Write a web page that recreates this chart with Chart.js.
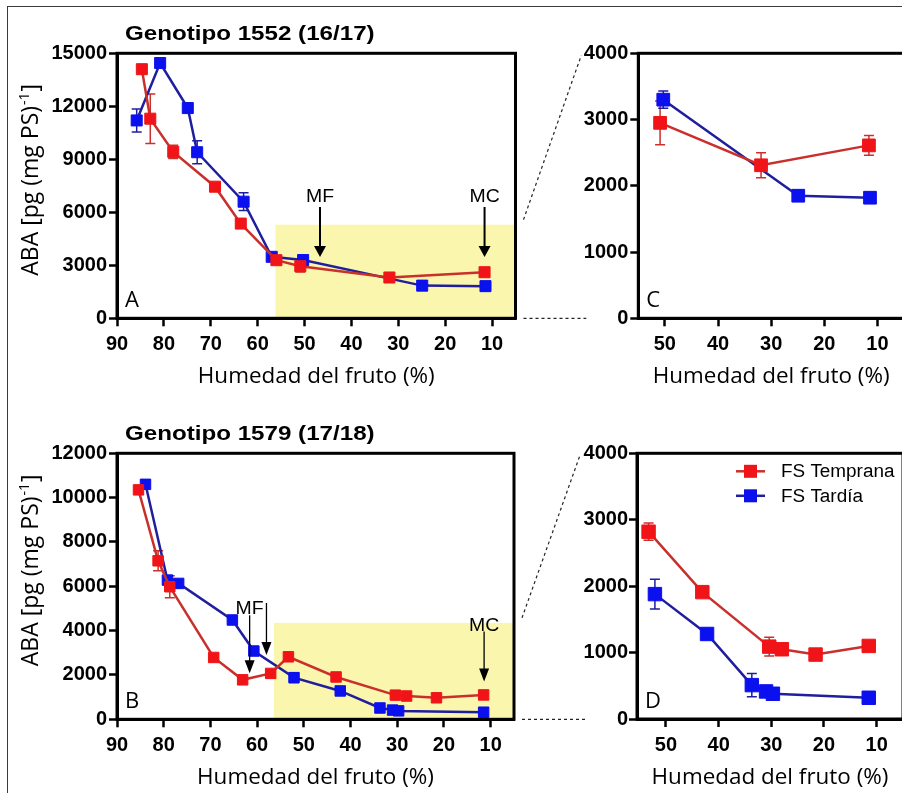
<!DOCTYPE html>
<html lang="es">
<head>
<meta charset="utf-8">
<title>ABA y humedad del fruto</title>
<script src="https://cdn.jsdelivr.net/npm/chart.js@4.4.1/dist/chart.umd.min.js"></script>
<style>
html, body { margin: 0; padding: 0; background: #fff; }
body { width: 902px; height: 793px; overflow: hidden; position: relative; }
#marco { position: absolute; left: 7px; top: 6px; width: 1000px; height: 1000px;
         border-top: 1.5px solid #3a3a3a; border-left: 1.5px solid #3a3a3a; }
canvas { position: absolute; left: 0; top: 0; }
</style>
</head>
<body>
<div id="marco"></div>
<canvas id="panelA" width="920" height="793"></canvas>
<canvas id="panelB" width="920" height="793"></canvas>
<canvas id="panelC" width="920" height="793"></canvas>
<canvas id="panelD" width="920" height="793"></canvas>
<script>
// Genotipo 1552 (16/17): humedad del fruto (%), ABA y error estándar
const humedad1552Temprana = [84.7, 82.9, 78.0, 69.1, 63.6, 56.0, 50.9, 31.9, 11.6];
const aba1552Temprana     = [14100, 11300, 9420, 7450, 5360, 3290, 2950, 2310, 2610];
const es1552Temprana      = [0, 1400, 380, 0, 0, 0, 330, 190, 150];

const humedad1552Tardia = [85.8, 80.8, 74.9, 72.9, 63.0, 57.0, 50.3, 24.9, 11.4];
const aba1552Tardia     = [11200, 14450, 11900, 9400, 6600, 3480, 3300, 1850, 1820];
const es1552Tardia      = [650, 300, 0, 650, 500, 0, 130, 0, 0];

// Genotipo 1579 (17/18)
const humedad1579Temprana = [85.4, 81.2, 78.7, 69.3, 63.1, 57.1, 53.3, 43.1, 30.4, 28.0, 21.6, 11.5];
const aba1579Temprana     = [10350, 7150, 5980, 2790, 1780, 2070, 2820, 1910, 1090, 1050, 970, 1100];
const es1579Temprana      = [0, 450, 500, 0, 0, 0, 130, 0, 140, 0, 0, 0];

const humedad1579Tardia = [83.9, 79.2, 76.8, 65.3, 60.7, 52.1, 42.2, 33.7, 31.0, 29.7, 11.5];
const aba1579Tardia     = [10600, 6280, 6130, 4480, 3080, 1880, 1280, 510, 415, 380, 320];
const es1579Tardia      = [0, 0, 0, 0, 0, 225, 0, 175, 0, 0, 0];

const ticksHumedad     = [90, 80, 70, 60, 50, 40, 30, 20, 10];
const ticksHumedadZoom = [50, 40, 30, 20, 10];
const ticksAba1552     = [0, 3000, 6000, 9000, 12000, 15000];
const ticksAba1579     = [0, 2000, 4000, 6000, 8000, 10000, 12000];
const ticksAbaZoom     = [0, 1000, 2000, 3000, 4000];

const nombresSeries = ['FS Temprana', 'FS Tardía'];

const W = 920, H = 793;
const amarillo = '#fbf6ad';
const rojo = { line: '#c9302c', point: '#f01418' };
const azul = { line: '#1f1f9e', point: '#0b10ee' };
const fuenteTicks = { family: '"Liberation Sans", Arial, sans-serif', size: 20, weight: 'bold' };

function serie(nombre, xs, ys, es, color, xMax) {
  const puntos = xs.map((x, i) => ({ x: x, y: ys[i], e: es[i] })).filter(pt => pt.x <= xMax);
  return { nombre: nombre, color: color, puntos: puntos };
}

// texto con escala horizontal (las fuentes del gráfico original son algo anchas)
function texto(ctx, str, x, y, font, sx, align) {
  ctx.save();
  ctx.font = font;
  ctx.fillStyle = '#000';
  ctx.textBaseline = 'alphabetic';
  ctx.textAlign = 'left';
  const w = ctx.measureText(str).width * sx;
  const x0 = align === 'center' ? x - w / 2 : (align === 'right' ? x - w : x);
  ctx.translate(x0, y);
  ctx.scale(sx, 1);
  ctx.fillText(str, 0, 0);
  ctx.restore();
}

function tituloY(ctx, cx, cy) {
  const main = 'ABA [pg (mg PS)', sup = '-1', fin = ']';
  const fGrande = '23px "Open Sans", sans-serif', fSup = '14px "Open Sans", sans-serif';
  ctx.save();
  ctx.fillStyle = '#000';
  ctx.textBaseline = 'alphabetic';
  ctx.translate(cx, cy);
  ctx.rotate(-Math.PI / 2);
  ctx.font = fGrande;
  const w1 = ctx.measureText(main).width, w3 = ctx.measureText(fin).width;
  ctx.font = fSup;
  const w2 = ctx.measureText(sup).width;
  const x0 = -(w1 + w2 + w3 + 2) / 2;
  ctx.font = fGrande;
  ctx.fillText(main, x0, 0);
  ctx.fillText(fin, x0 + w1 + w2 + 2, 0);
  ctx.font = fSup;
  ctx.fillText(sup, x0 + w1 + 1, -9);
  ctx.restore();
}

function flecha(ctx, x, yTip, largo, ancho, cabeza, grosor) {
  ctx.save();
  ctx.strokeStyle = '#000';
  ctx.fillStyle = '#000';
  ctx.lineWidth = grosor;
  ctx.beginPath();
  ctx.moveTo(x, yTip - largo);
  ctx.lineTo(x, yTip - cabeza + 1);
  ctx.stroke();
  ctx.beginPath();
  ctx.moveTo(x - ancho, yTip - cabeza);
  ctx.lineTo(x + ancho, yTip - cabeza);
  ctx.lineTo(x, yTip);
  ctx.closePath();
  ctx.fill();
  ctx.restore();
}

function discontinua(ctx, x1, y1, x2, y2) {
  ctx.save();
  ctx.strokeStyle = '#222';
  ctx.lineWidth = 1.2;
  ctx.setLineDash([3, 3]);
  ctx.beginPath();
  ctx.moveTo(x1, y1);
  ctx.lineTo(x2, y2);
  ctx.stroke();
  ctx.restore();
}

function decoracion(p) {
  return {
    id: 'deco' + p.letra,
    beforeDatasetsDraw(chart) {
      const ctx = chart.ctx, a = chart.chartArea, sx = chart.scales.x, sy = chart.scales.y;
      if (p.zona) {
        const x0 = sx.getPixelForValue(p.zona.desde);
        const y0 = sy.getPixelForValue(p.zona.hasta);
        ctx.save();
        ctx.fillStyle = amarillo;
        ctx.fillRect(x0, y0, a.right - x0, a.bottom - y0);
        ctx.restore();
      }
      // barras de error
      chart.data.datasets.forEach(ds => {
        ctx.save();
        ctx.strokeStyle = ds.borderColor;
        ctx.lineWidth = 1.5;
        ds.data.forEach(pt => {
          if (!pt.e) return;
          const px = sx.getPixelForValue(pt.x);
          const y1 = sy.getPixelForValue(pt.y + pt.e), y2 = sy.getPixelForValue(pt.y - pt.e);
          ctx.beginPath();
          ctx.moveTo(px, y1); ctx.lineTo(px, y2);
          ctx.moveTo(px - 5, y1); ctx.lineTo(px + 5, y1);
          ctx.moveTo(px - 5, y2); ctx.lineTo(px + 5, y2);
          ctx.stroke();
        });
        ctx.restore();
      });
    },
    afterDraw(chart) {
      const ctx = chart.ctx, a = chart.chartArea, sx = chart.scales.x, sy = chart.scales.y;
      ctx.save();
      ctx.strokeStyle = '#000';
      ctx.lineWidth = 3;
      ctx.strokeRect(a.left, a.top, a.right - a.left, a.bottom - a.top);
      ctx.restore();

      texto(ctx, p.letra, a.left + 8, a.bottom - 11, '22px "Open Sans", sans-serif', 1, 'left');
      texto(ctx, 'Humedad del fruto (%)', (a.left + a.right) / 2, a.bottom + 64.5,
            '22px "Open Sans", sans-serif', 1.02, 'center');

      if (p.titulo) {
        texto(ctx, p.titulo, a.left + 8, a.top - 13, 'bold 21px "Liberation Sans", Arial, sans-serif', 1.15, 'left');
      }
      if (p.ejeY) {
        tituloY(ctx, 38, (a.top + a.bottom) / 2 + p.ejeY);
      }
      (p.flechas || []).forEach(f => {
        const x = sx.getPixelForValue(f.x), yTip = sy.getPixelForValue(f.punta);
        flecha(ctx, x, yTip, f.largo, p.estiloFlecha.ancho, p.estiloFlecha.cabeza, p.estiloFlecha.grosor);
        if (f.texto) {
          texto(ctx, f.texto, x, yTip - f.largo - p.estiloFlecha.gap, '18px "Liberation Sans", Arial, sans-serif', 1.08, 'center');
        }
      });
      if (p.leyenda) {
        chart.data.datasets.forEach((ds, i) => {
          const yc = a.top + 18 + i * 24.5;
          const xl = a.left + 99;
          ctx.save();
          ctx.strokeStyle = ds.borderColor;
          ctx.lineWidth = 2.5;
          ctx.beginPath();
          ctx.moveTo(xl, yc); ctx.lineTo(xl + 29, yc);
          ctx.stroke();
          ctx.fillStyle = ds.pointBackgroundColor;
          ctx.fillRect(xl + 8, yc - 6.5, 13, 13);
          ctx.restore();
          texto(ctx, ds.label, xl + 45, yc + 6, '18px "Liberation Sans", Arial, sans-serif', 1.05, 'left');
        });
      }
      if (p.fuente) {
        // líneas de ampliación desde la zona amarilla del panel de origen
        const f = p.fuente.chart, fa = f.chartArea;
        const yTop = f.scales.y.getPixelForValue(p.fuente.hasta);
        discontinua(ctx, fa.right + 8, yTop - 5, a.left - 57, a.top + 2);
        discontinua(ctx, fa.right + 8, fa.bottom, a.left - 52, fa.bottom);
      }
    }
  };
}

function crearPanel(id, p) {
  return new Chart(document.getElementById(id), {
    type: 'line',
    data: {
      datasets: p.series.map(s => ({
        label: s.nombre,
        data: s.puntos,
        borderColor: s.color.line,
        backgroundColor: s.color.point,
        pointBackgroundColor: s.color.point,
        pointBorderColor: s.color.point,
        pointStyle: 'rect',
        pointRadius: p.radio,
        pointBorderWidth: 1,
        borderWidth: 2.5,
        tension: 0,
        fill: false
      }))
    },
    options: {
      responsive: false,
      animation: false,
      devicePixelRatio: 1,
      events: [],
      layout: { padding: { left: 0, top: p.area.top, right: W - p.area.right, bottom: 0 } },
      plugins: { legend: { display: false }, tooltip: { enabled: false } },
      scales: {
        x: {
          type: 'linear',
          reverse: true,
          min: p.xMin,
          max: p.xMax,
          afterBuildTicks: s => { s.ticks = p.xTicks.map(v => ({ value: v })); },
          afterFit: s => { s.height = H - p.area.bottom; },
          ticks: { font: fuenteTicks, color: '#000', padding: 6, maxRotation: 0, autoSkip: false,
                   callback: v => String(v) },
          grid: { drawOnChartArea: false, drawTicks: true, tickLength: 8, tickWidth: 2.5,
                  tickColor: '#000', color: '#000' },
          border: { display: true, color: '#000', width: 3 }
        },
        y: {
          type: 'linear',
          min: 0,
          max: p.yMax,
          afterBuildTicks: s => { s.ticks = p.yTicks.map(v => ({ value: v })); },
          afterFit: s => { s.width = p.area.left; },
          ticks: { font: fuenteTicks, color: '#000', padding: p.yPad, autoSkip: false,
                   callback: v => String(v) },
          grid: { drawOnChartArea: false, drawTicks: true, tickLength: p.yTick, tickWidth: 2.5,
                  tickColor: '#000', color: '#000' },
          border: { display: true, color: '#000', width: 3 }
        }
      }
    },
    plugins: [decoracion(p)]
  });
}

const chartA = crearPanel('panelA', {
  letra: 'A',
  titulo: 'Genotipo 1552 (16/17)',
  area: { left: 117, top: 53.3, right: 515.5, bottom: 318.3 },
  xMin: 5, xMax: 90, xTicks: ticksHumedad,
  yMax: 15000, yTicks: ticksAba1552, yPad: 2, yTick: 8,
  radio: 7.8,
  ejeY: -6,
  zona: { desde: 56.2, hasta: 5300 },
  estiloFlecha: { ancho: 6, cabeza: 11, grosor: 2, gap: 5 },
  flechas: [
    { x: 46.7, punta: 3470, largo: 50, texto: 'MF' },
    { x: 11.6, punta: 3470, largo: 50, texto: 'MC' }
  ],
  series: [
    serie(nombresSeries[0], humedad1552Temprana, aba1552Temprana, es1552Temprana, rojo, 90),
    serie(nombresSeries[1], humedad1552Tardia, aba1552Tardia, es1552Tardia, azul, 90)
  ]
});

const chartB = crearPanel('panelB', {
  letra: 'B',
  titulo: 'Genotipo 1579 (17/18)',
  area: { left: 117, top: 453.3, right: 514, bottom: 719.3 },
  xMin: 5, xMax: 90, xTicks: ticksHumedad,
  yMax: 12000, yTicks: ticksAba1579, yPad: 2, yTick: 8,
  radio: 7.4,
  ejeY: -16,
  zona: { desde: 56.4, hasta: 4350 },
  estiloFlecha: { ancho: 5, cabeza: 13, grosor: 1.3, gap: 1 },
  flechas: [
    { x: 61.6, punta: 2075, largo: 58, texto: 'MF' },
    { x: 58.0, punta: 2900, largo: 52 },
    { x: 11.4, punta: 1700, largo: 50, texto: 'MC' }
  ],
  series: [
    serie(nombresSeries[0], humedad1579Temprana, aba1579Temprana, es1579Temprana, rojo, 90),
    serie(nombresSeries[1], humedad1579Tardia, aba1579Tardia, es1579Tardia, azul, 90)
  ]
});

crearPanel('panelC', {
  letra: 'C',
  area: { left: 638.3, top: 53.3, right: 904, bottom: 318.3 },
  xMin: 5, xMax: 55, xTicks: ticksHumedadZoom,
  yMax: 4000, yTicks: ticksAbaZoom, yPad: 2, yTick: 8,
  radio: 9,
  fuente: { chart: chartA, hasta: 5300 },
  series: [
    serie(nombresSeries[0], humedad1552Temprana, aba1552Temprana, es1552Temprana, rojo, 55),
    serie(nombresSeries[1], humedad1552Tardia, aba1552Tardia, es1552Tardia, azul, 55)
  ]
});

crearPanel('panelD', {
  letra: 'D',
  area: { left: 637, top: 453.3, right: 903, bottom: 719 },
  xMin: 5, xMax: 55.5, xTicks: ticksHumedadZoom,
  yMax: 4000, yTicks: ticksAbaZoom, yPad: 1, yTick: 8,
  radio: 9.5,
  leyenda: true,
  fuente: { chart: chartB, hasta: 4350 },
  series: [
    serie(nombresSeries[0], humedad1579Temprana, aba1579Temprana, es1579Temprana, rojo, 55.5),
    serie(nombresSeries[1], humedad1579Tardia, aba1579Tardia, es1579Tardia, azul, 55.5)
  ]
});
</script>
</body>
</html>
